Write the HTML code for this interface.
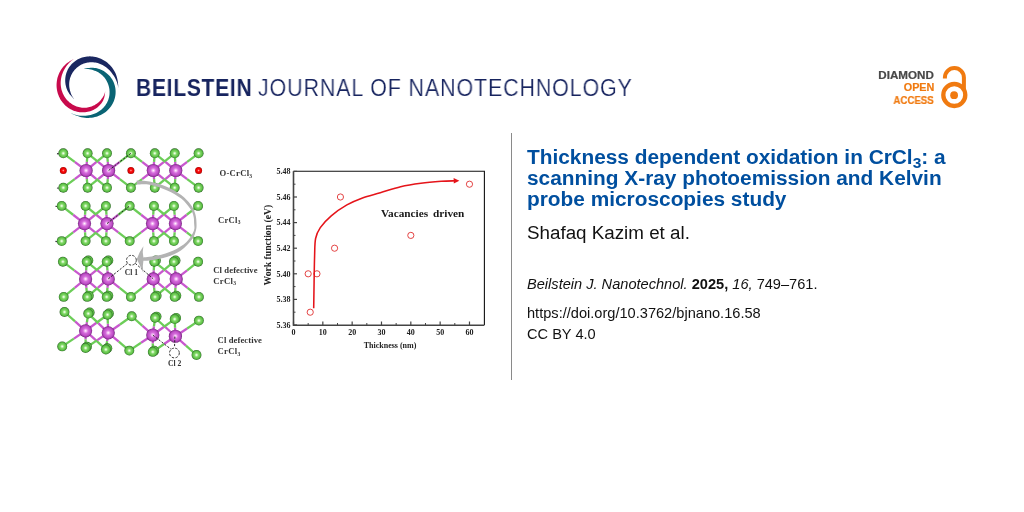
<!DOCTYPE html>
<html><head><meta charset="utf-8">
<style>
html,body{margin:0;padding:0;background:#fff;}
body{width:1024px;height:512px;position:relative;overflow:hidden;font-family:"Liberation Sans",sans-serif;}
.abs{position:absolute;white-space:nowrap;will-change:transform;}
#brand1{left:136px;top:75px;font-size:23.3px;font-weight:bold;color:#17245f;transform-origin:0 0;transform:scaleX(0.9);letter-spacing:0.85px;}
#brand2{left:258px;top:75px;font-size:23.3px;color:#17245f;transform-origin:0 0;transform:scaleX(0.92);letter-spacing:0.95px;-webkit-text-stroke:0.2px #fff;}
#vline{left:511px;top:133px;width:1px;height:247px;background:#8a8a8a;}
#title{left:527px;top:146px;font-size:20.85px;font-weight:bold;color:#004f9f;line-height:21px;}
#author{left:527px;top:222px;font-size:18.8px;color:#111;}
#cite{left:527px;top:276px;font-size:14.6px;color:#111;}
#doi{left:527px;top:305px;font-size:14.6px;color:#111;}
#cc{left:527px;top:325.5px;font-size:14.6px;color:#111;}
.oa{font-family:"Liberation Sans",sans-serif;font-weight:bold;font-size:10px;line-height:11.5px;transform-origin:100% 0;-webkit-text-stroke:0.2px currentColor;}
</style></head><body>
<svg class="abs" style="left:0;top:0" width="1024" height="512" viewBox="0 0 1024 512"><path d="M75.41 100.27 L74.42 99.34 L73.47 98.41 L72.55 97.48 L71.67 96.55 L70.83 95.61 L70.02 94.64 L69.27 93.65 L68.58 92.62 L67.95 91.55 L67.41 90.45 L66.93 89.33 L66.5 88.19 L66.14 87.04 L65.84 85.87 L65.59 84.71 L65.41 83.53 L65.28 82.35 L65.22 81.18 L65.21 80 L65.26 78.83 L65.36 77.66 L65.52 76.51 L65.74 75.36 L66.02 74.23 L66.35 73.11 L66.74 72.01 L67.18 70.93 L67.67 69.87 L68.21 68.83 L68.81 67.82 L69.46 66.84 L70.16 65.88 L70.91 64.96 L71.7 64.08 L72.54 63.23 L73.43 62.42 L74.37 61.65 L75.35 60.92 L76.36 60.24 L77.42 59.6 L78.52 59.02 L79.66 58.49 L80.83 58.01 L82.04 57.59 L83.27 57.22 L84.54 56.92 L85.83 56.68 L87.14 56.51 L88.48 56.41 L89.83 56.37 L91.2 56.4 L92.58 56.51 L93.97 56.69 L95.36 56.95 L96.76 57.28 L98.15 57.7 L99.54 58.19 L100.91 58.76 L102.27 59.42 L103.61 60.15 L104.93 60.97 L106.22 61.87 L107.47 62.85 L108.69 63.91 L109.86 65.06 L110.98 66.28 L112.05 67.58 L113.06 68.95 L114.01 70.4 L114.88 71.93 L115.64 73.53 L116.29 75.19 L116.84 76.91 L117.28 78.68 L117.64 80.49 L117.91 82.34 L118.12 84.24 L118.25 86.17 L118.32 88.15 L118.32 88.15 L118.02 86.12 L117.56 84.15 L116.97 82.26 L116.26 80.45 L115.46 78.73 L114.57 77.1 L113.61 75.57 L112.62 74.13 L111.61 72.78 L110.58 71.51 L109.52 70.32 L108.41 69.23 L107.28 68.22 L106.12 67.29 L104.94 66.46 L103.75 65.7 L102.55 65.03 L101.34 64.44 L100.13 63.92 L98.93 63.48 L97.73 63.12 L96.54 62.82 L95.37 62.58 L94.22 62.41 L93.08 62.3 L91.97 62.25 L90.87 62.25 L89.81 62.3 L88.77 62.41 L87.75 62.55 L86.76 62.74 L85.81 62.97 L84.88 63.23 L83.97 63.53 L83.1 63.86 L82.25 64.23 L81.44 64.62 L80.65 65.04 L79.89 65.48 L79.15 65.95 L78.44 66.45 L77.76 66.96 L77.1 67.5 L76.46 68.06 L75.85 68.64 L75.27 69.23 L74.7 69.85 L74.16 70.49 L73.65 71.16 L73.15 71.84 L72.69 72.54 L72.24 73.27 L71.82 74.01 L71.43 74.78 L71.06 75.57 L70.72 76.39 L70.41 77.23 L70.12 78.09 L69.88 78.98 L69.66 79.89 L69.48 80.83 L69.35 81.79 L69.25 82.77 L69.19 83.78 L69.18 84.8 L69.22 85.85 L69.31 86.92 L69.46 88 L69.66 89.1 L69.92 90.22 L70.22 91.36 L70.58 92.53 L71 93.71 L71.5 94.88 L72.09 96.05 L72.77 97.19 L73.56 98.28 L74.44 99.31 L75.41 100.27 Z" fill="#1a2760"/><path d="M73.82 59.05 L72.43 59.77 L71.06 60.53 L69.72 61.33 L68.41 62.19 L67.14 63.1 L65.92 64.08 L64.75 65.13 L63.65 66.25 L62.64 67.45 L61.71 68.71 L60.85 70.02 L60.07 71.38 L59.36 72.77 L58.73 74.19 L58.17 75.64 L57.7 77.12 L57.31 78.62 L57 80.13 L56.77 81.65 L56.63 83.18 L56.56 84.71 L56.58 86.24 L56.68 87.76 L56.87 89.27 L57.13 90.76 L57.47 92.23 L57.89 93.68 L58.39 95.1 L58.95 96.48 L59.59 97.82 L60.3 99.13 L61.08 100.39 L61.92 101.6 L62.82 102.75 L63.78 103.86 L64.79 104.9 L65.85 105.89 L66.96 106.81 L68.11 107.67 L69.3 108.46 L70.52 109.18 L71.78 109.82 L73.07 110.4 L74.37 110.9 L75.7 111.33 L77.04 111.69 L78.38 111.97 L79.74 112.17 L81.09 112.3 L82.45 112.36 L83.79 112.34 L85.12 112.25 L86.44 112.08 L87.74 111.85 L89.02 111.54 L90.26 111.17 L91.48 110.74 L92.66 110.24 L93.81 109.68 L94.91 109.06 L95.97 108.39 L96.99 107.67 L97.95 106.9 L98.86 106.08 L99.72 105.22 L100.52 104.32 L101.27 103.39 L101.95 102.42 L102.58 101.43 L103.13 100.41 L103.61 99.35 L104.01 98.28 L104.34 97.19 L104.59 96.1 L104.8 95.01 L104.95 93.93 L105.07 92.87 L105.16 91.82 L105.23 90.79 L105.23 90.79 L105.09 91.8 L104.86 92.8 L104.54 93.78 L104.16 94.73 L103.71 95.65 L103.2 96.54 L102.66 97.41 L102.07 98.25 L101.47 99.08 L100.84 99.89 L100.17 100.67 L99.46 101.42 L98.71 102.13 L97.93 102.81 L97.12 103.46 L96.27 104.06 L95.39 104.62 L94.48 105.14 L93.54 105.62 L92.57 106.05 L91.58 106.44 L90.58 106.78 L89.55 107.07 L88.5 107.3 L87.44 107.49 L86.36 107.63 L85.28 107.71 L84.19 107.74 L83.09 107.71 L81.99 107.64 L80.89 107.5 L79.79 107.31 L78.7 107.06 L77.61 106.76 L76.54 106.41 L75.48 105.99 L74.43 105.53 L73.4 105.01 L72.4 104.43 L71.41 103.8 L70.46 103.12 L69.53 102.39 L68.64 101.61 L67.78 100.78 L66.96 99.9 L66.18 98.97 L65.44 98 L64.74 96.99 L64.1 95.94 L63.5 94.84 L62.95 93.72 L62.46 92.55 L62.03 91.36 L61.65 90.14 L61.33 88.89 L61.08 87.61 L60.88 86.32 L60.76 85 L60.69 83.68 L60.7 82.34 L60.77 80.99 L60.92 79.64 L61.13 78.29 L61.41 76.94 L61.77 75.59 L62.19 74.25 L62.69 72.93 L63.26 71.62 L63.9 70.34 L64.6 69.07 L65.36 67.82 L66.17 66.57 L67.04 65.35 L67.98 64.15 L69 63 L70.09 61.9 L71.26 60.87 L72.5 59.92 L73.82 59.05 Z" fill="#c80a4c"/><path d="M82.38 69.27 L83.8 68.92 L85.18 68.61 L86.54 68.34 L87.89 68.12 L89.22 67.94 L90.54 67.82 L91.85 67.76 L93.15 67.79 L94.44 67.9 L95.71 68.11 L96.95 68.37 L98.16 68.7 L99.34 69.08 L100.49 69.52 L101.61 70 L102.69 70.54 L103.73 71.12 L104.74 71.75 L105.7 72.42 L106.63 73.13 L107.52 73.88 L108.36 74.66 L109.17 75.49 L109.93 76.34 L110.64 77.23 L111.31 78.14 L111.94 79.09 L112.52 80.06 L113.05 81.06 L113.54 82.08 L113.97 83.12 L114.36 84.19 L114.7 85.27 L114.98 86.37 L115.22 87.48 L115.4 88.61 L115.53 89.76 L115.61 90.91 L115.63 92.07 L115.59 93.24 L115.5 94.42 L115.35 95.59 L115.14 96.77 L114.87 97.95 L114.54 99.12 L114.15 100.29 L113.7 101.45 L113.19 102.6 L112.61 103.73 L111.97 104.85 L111.26 105.94 L110.49 107.01 L109.66 108.06 L108.76 109.07 L107.8 110.05 L106.77 110.99 L105.68 111.89 L104.53 112.74 L103.32 113.54 L102.05 114.29 L100.72 114.98 L99.34 115.61 L97.9 116.17 L96.4 116.66 L94.86 117.08 L93.28 117.42 L91.65 117.68 L89.98 117.85 L88.28 117.93 L86.55 117.91 L84.8 117.77 L83.05 117.51 L81.28 117.14 L79.52 116.67 L77.74 116.11 L75.96 115.46 L74.16 114.73 L72.35 113.91 L70.51 113.01 L70.51 113.01 L72.4 113.86 L74.32 114.55 L76.26 115.08 L78.19 115.45 L80.11 115.69 L81.99 115.79 L83.83 115.79 L85.61 115.68 L87.32 115.5 L88.97 115.25 L90.56 114.92 L92.09 114.51 L93.55 114.03 L94.95 113.49 L96.28 112.88 L97.53 112.22 L98.72 111.51 L99.84 110.76 L100.89 109.98 L101.86 109.16 L102.77 108.31 L103.62 107.44 L104.39 106.55 L105.1 105.65 L105.75 104.74 L106.34 103.82 L106.87 102.9 L107.34 101.98 L107.77 101.06 L108.14 100.14 L108.46 99.23 L108.73 98.33 L108.97 97.43 L109.16 96.54 L109.31 95.67 L109.43 94.8 L109.51 93.95 L109.55 93.1 L109.57 92.27 L109.56 91.45 L109.51 90.63 L109.45 89.83 L109.35 89.03 L109.23 88.25 L109.08 87.47 L108.9 86.7 L108.7 85.93 L108.48 85.17 L108.23 84.41 L107.95 83.66 L107.64 82.91 L107.3 82.17 L106.94 81.43 L106.54 80.69 L106.11 79.96 L105.64 79.23 L105.14 78.51 L104.6 77.8 L104.01 77.1 L103.39 76.4 L102.73 75.72 L102.01 75.06 L101.26 74.41 L100.45 73.78 L99.6 73.18 L98.7 72.6 L97.74 72.06 L96.74 71.54 L95.68 71.07 L94.57 70.63 L93.41 70.22 L92.19 69.83 L90.91 69.49 L89.58 69.21 L88.2 69.01 L86.78 68.9 L85.32 68.91 L83.86 69.03 L82.38 69.27 Z" fill="#0a6474"/></svg>
<div class="abs" id="brand1">BEILSTEIN</div>
<div class="abs" id="brand2">JOURNAL OF NANOTECHNOLOGY</div>
<div class="abs oa" style="right:90px;top:70px;color:#484848;transform:scaleX(1.16)">DIAMOND</div><div class="abs oa" style="right:90px;top:82px;color:#f07a10;transform:scaleX(1.08)">OPEN</div><div class="abs oa" style="right:90px;top:94.5px;color:#f07a10;transform:scaleX(0.966)">ACCESS</div>
<svg class="abs" style="left:0;top:0" width="1024" height="512" viewBox="0 0 1024 512">
<path d="M944.9 78.6 V77.6 A9.5 9.5 0 0 1 963.9 77.6 V90" fill="none" stroke="#f07a10" stroke-width="4"/>
<circle cx="954.3" cy="95" r="11" fill="none" stroke="#f07a10" stroke-width="4.3"/>
<circle cx="954.1" cy="95.2" r="3.9" fill="#f07a10"/>
</svg>
<svg class="abs" style="left:0;top:0" width="1024" height="512" viewBox="0 0 1024 512">
<defs>
<radialGradient id="gCl" cx="0.5" cy="0.5" r="0.5">
 <stop offset="0" stop-color="#ffffff"/>
 <stop offset="0.14" stop-color="#d6f6c8"/>
 <stop offset="0.4" stop-color="#80d866"/>
 <stop offset="0.72" stop-color="#62c24a"/>
 <stop offset="0.88" stop-color="#48a038"/>
 <stop offset="1" stop-color="#2a5e22"/>
</radialGradient>
<radialGradient id="gCr" cx="0.5" cy="0.5" r="0.5">
 <stop offset="0" stop-color="#ffffff"/>
 <stop offset="0.13" stop-color="#f8c8f8"/>
 <stop offset="0.4" stop-color="#d46cda"/>
 <stop offset="0.72" stop-color="#c050c8"/>
 <stop offset="0.88" stop-color="#a03aa8"/>
 <stop offset="1" stop-color="#662070"/>
</radialGradient>
<radialGradient id="gO" cx="0.5" cy="0.5" r="0.5">
 <stop offset="0" stop-color="#ffb0b0"/>
 <stop offset="0.35" stop-color="#ff1010"/>
 <stop offset="0.85" stop-color="#d80000"/>
 <stop offset="1" stop-color="#900000"/>
</radialGradient>
</defs>
<line x1="86.1" y1="170.5" x2="74.7" y2="161.9" stroke="#c858ce" stroke-width="2.3"/><line x1="74.7" y1="161.9" x2="63.3" y2="153.3" stroke="#6ccd58" stroke-width="2.3"/><line x1="86.1" y1="170.5" x2="74.7" y2="179.1" stroke="#c858ce" stroke-width="2.3"/><line x1="74.7" y1="179.1" x2="63.3" y2="187.7" stroke="#6ccd58" stroke-width="2.3"/><line x1="86.1" y1="170.5" x2="86.85" y2="161.9" stroke="#c858ce" stroke-width="2.3"/><line x1="86.85" y1="161.9" x2="87.6" y2="153.3" stroke="#6ccd58" stroke-width="2.3"/><line x1="86.1" y1="170.5" x2="86.85" y2="179.1" stroke="#c858ce" stroke-width="2.3"/><line x1="86.85" y1="179.1" x2="87.6" y2="187.7" stroke="#6ccd58" stroke-width="2.3"/><line x1="86.1" y1="170.5" x2="96.55" y2="161.9" stroke="#c858ce" stroke-width="2.3"/><line x1="96.55" y1="161.9" x2="107" y2="153.3" stroke="#6ccd58" stroke-width="2.3"/><line x1="86.1" y1="170.5" x2="96.55" y2="179.1" stroke="#c858ce" stroke-width="2.3"/><line x1="96.55" y1="179.1" x2="107" y2="187.7" stroke="#6ccd58" stroke-width="2.3"/><line x1="108.6" y1="170.5" x2="98.1" y2="161.9" stroke="#c858ce" stroke-width="2.3"/><line x1="98.1" y1="161.9" x2="87.6" y2="153.3" stroke="#6ccd58" stroke-width="2.3"/><line x1="108.6" y1="170.5" x2="98.1" y2="179.1" stroke="#c858ce" stroke-width="2.3"/><line x1="98.1" y1="179.1" x2="87.6" y2="187.7" stroke="#6ccd58" stroke-width="2.3"/><line x1="108.6" y1="170.5" x2="107.8" y2="161.9" stroke="#c858ce" stroke-width="2.3"/><line x1="107.8" y1="161.9" x2="107" y2="153.3" stroke="#6ccd58" stroke-width="2.3"/><line x1="108.6" y1="170.5" x2="107.8" y2="179.1" stroke="#c858ce" stroke-width="2.3"/><line x1="107.8" y1="179.1" x2="107" y2="187.7" stroke="#6ccd58" stroke-width="2.3"/><line x1="108.6" y1="170.5" x2="119.75" y2="161.9" stroke="#c858ce" stroke-width="2.3"/><line x1="119.75" y1="161.9" x2="130.9" y2="153.3" stroke="#6ccd58" stroke-width="2.3"/><line x1="108.6" y1="170.5" x2="119.75" y2="179.1" stroke="#c858ce" stroke-width="2.3"/><line x1="119.75" y1="179.1" x2="130.9" y2="187.7" stroke="#6ccd58" stroke-width="2.3"/><line x1="153.3" y1="170.5" x2="142.1" y2="161.9" stroke="#c858ce" stroke-width="2.3"/><line x1="142.1" y1="161.9" x2="130.9" y2="153.3" stroke="#6ccd58" stroke-width="2.3"/><line x1="153.3" y1="170.5" x2="142.1" y2="179.1" stroke="#c858ce" stroke-width="2.3"/><line x1="142.1" y1="179.1" x2="130.9" y2="187.7" stroke="#6ccd58" stroke-width="2.3"/><line x1="153.3" y1="170.5" x2="154.05" y2="161.9" stroke="#c858ce" stroke-width="2.3"/><line x1="154.05" y1="161.9" x2="154.8" y2="153.3" stroke="#6ccd58" stroke-width="2.3"/><line x1="153.3" y1="170.5" x2="154.05" y2="179.1" stroke="#c858ce" stroke-width="2.3"/><line x1="154.05" y1="179.1" x2="154.8" y2="187.7" stroke="#6ccd58" stroke-width="2.3"/><line x1="153.3" y1="170.5" x2="164" y2="161.9" stroke="#c858ce" stroke-width="2.3"/><line x1="164" y1="161.9" x2="174.7" y2="153.3" stroke="#6ccd58" stroke-width="2.3"/><line x1="153.3" y1="170.5" x2="164" y2="179.1" stroke="#c858ce" stroke-width="2.3"/><line x1="164" y1="179.1" x2="174.7" y2="187.7" stroke="#6ccd58" stroke-width="2.3"/><line x1="175.75" y1="170.5" x2="165.28" y2="161.9" stroke="#c858ce" stroke-width="2.3"/><line x1="165.28" y1="161.9" x2="154.8" y2="153.3" stroke="#6ccd58" stroke-width="2.3"/><line x1="175.75" y1="170.5" x2="165.28" y2="179.1" stroke="#c858ce" stroke-width="2.3"/><line x1="165.28" y1="179.1" x2="154.8" y2="187.7" stroke="#6ccd58" stroke-width="2.3"/><line x1="175.75" y1="170.5" x2="175.22" y2="161.9" stroke="#c858ce" stroke-width="2.3"/><line x1="175.22" y1="161.9" x2="174.7" y2="153.3" stroke="#6ccd58" stroke-width="2.3"/><line x1="175.75" y1="170.5" x2="175.22" y2="179.1" stroke="#c858ce" stroke-width="2.3"/><line x1="175.22" y1="179.1" x2="174.7" y2="187.7" stroke="#6ccd58" stroke-width="2.3"/><line x1="175.75" y1="170.5" x2="187.18" y2="161.9" stroke="#c858ce" stroke-width="2.3"/><line x1="187.18" y1="161.9" x2="198.6" y2="153.3" stroke="#6ccd58" stroke-width="2.3"/><line x1="175.75" y1="170.5" x2="187.18" y2="179.1" stroke="#c858ce" stroke-width="2.3"/><line x1="187.18" y1="179.1" x2="198.6" y2="187.7" stroke="#6ccd58" stroke-width="2.3"/><circle cx="63.3" cy="153.3" r="4.95" fill="url(#gCl)"/><circle cx="87.6" cy="153.3" r="4.95" fill="url(#gCl)"/><circle cx="107" cy="153.3" r="4.95" fill="url(#gCl)"/><circle cx="130.9" cy="153.3" r="4.95" fill="url(#gCl)"/><circle cx="154.8" cy="153.3" r="4.95" fill="url(#gCl)"/><circle cx="174.7" cy="153.3" r="4.95" fill="url(#gCl)"/><circle cx="198.6" cy="153.3" r="4.95" fill="url(#gCl)"/><circle cx="63.3" cy="187.7" r="4.95" fill="url(#gCl)"/><circle cx="87.6" cy="187.7" r="4.95" fill="url(#gCl)"/><circle cx="107" cy="187.7" r="4.95" fill="url(#gCl)"/><circle cx="130.9" cy="187.7" r="4.95" fill="url(#gCl)"/><circle cx="154.8" cy="187.7" r="4.95" fill="url(#gCl)"/><circle cx="174.7" cy="187.7" r="4.95" fill="url(#gCl)"/><circle cx="198.6" cy="187.7" r="4.95" fill="url(#gCl)"/><circle cx="86.1" cy="170.5" r="6.6" fill="url(#gCr)"/><circle cx="108.6" cy="170.5" r="6.6" fill="url(#gCr)"/><circle cx="153.3" cy="170.5" r="6.6" fill="url(#gCr)"/><circle cx="175.75" cy="170.5" r="6.6" fill="url(#gCr)"/><circle cx="63.3" cy="170.5" r="3.5" fill="url(#gO)"/><circle cx="130.9" cy="170.5" r="3.5" fill="url(#gO)"/><circle cx="198.6" cy="170.5" r="3.5" fill="url(#gO)"/><line x1="108.6" y1="170.5" x2="130.9" y2="153.3" stroke="#222" stroke-width="0.95" stroke-dasharray="2.2 1.5"/><line x1="84.5" y1="223.6" x2="73.1" y2="214.75" stroke="#c858ce" stroke-width="2.3"/><line x1="73.1" y1="214.75" x2="61.7" y2="205.9" stroke="#6ccd58" stroke-width="2.3"/><line x1="84.5" y1="223.6" x2="73.1" y2="232.35" stroke="#c858ce" stroke-width="2.3"/><line x1="73.1" y1="232.35" x2="61.7" y2="241.1" stroke="#6ccd58" stroke-width="2.3"/><line x1="84.5" y1="223.6" x2="85.05" y2="214.75" stroke="#c858ce" stroke-width="2.3"/><line x1="85.05" y1="214.75" x2="85.6" y2="205.9" stroke="#6ccd58" stroke-width="2.3"/><line x1="84.5" y1="223.6" x2="85.05" y2="232.35" stroke="#c858ce" stroke-width="2.3"/><line x1="85.05" y1="232.35" x2="85.6" y2="241.1" stroke="#6ccd58" stroke-width="2.3"/><line x1="84.5" y1="223.6" x2="95.2" y2="214.75" stroke="#c858ce" stroke-width="2.3"/><line x1="95.2" y1="214.75" x2="105.9" y2="205.9" stroke="#6ccd58" stroke-width="2.3"/><line x1="84.5" y1="223.6" x2="95.2" y2="232.35" stroke="#c858ce" stroke-width="2.3"/><line x1="95.2" y1="232.35" x2="105.9" y2="241.1" stroke="#6ccd58" stroke-width="2.3"/><line x1="107" y1="223.6" x2="96.3" y2="214.75" stroke="#c858ce" stroke-width="2.3"/><line x1="96.3" y1="214.75" x2="85.6" y2="205.9" stroke="#6ccd58" stroke-width="2.3"/><line x1="107" y1="223.6" x2="96.3" y2="232.35" stroke="#c858ce" stroke-width="2.3"/><line x1="96.3" y1="232.35" x2="85.6" y2="241.1" stroke="#6ccd58" stroke-width="2.3"/><line x1="107" y1="223.6" x2="106.45" y2="214.75" stroke="#c858ce" stroke-width="2.3"/><line x1="106.45" y1="214.75" x2="105.9" y2="205.9" stroke="#6ccd58" stroke-width="2.3"/><line x1="107" y1="223.6" x2="106.45" y2="232.35" stroke="#c858ce" stroke-width="2.3"/><line x1="106.45" y1="232.35" x2="105.9" y2="241.1" stroke="#6ccd58" stroke-width="2.3"/><line x1="107" y1="223.6" x2="118.35" y2="214.75" stroke="#c858ce" stroke-width="2.3"/><line x1="118.35" y1="214.75" x2="129.7" y2="205.9" stroke="#6ccd58" stroke-width="2.3"/><line x1="107" y1="223.6" x2="118.35" y2="232.35" stroke="#c858ce" stroke-width="2.3"/><line x1="118.35" y1="232.35" x2="129.7" y2="241.1" stroke="#6ccd58" stroke-width="2.3"/><line x1="152.5" y1="223.6" x2="141.1" y2="214.75" stroke="#c858ce" stroke-width="2.3"/><line x1="141.1" y1="214.75" x2="129.7" y2="205.9" stroke="#6ccd58" stroke-width="2.3"/><line x1="152.5" y1="223.6" x2="141.1" y2="232.35" stroke="#c858ce" stroke-width="2.3"/><line x1="141.1" y1="232.35" x2="129.7" y2="241.1" stroke="#6ccd58" stroke-width="2.3"/><line x1="152.5" y1="223.6" x2="153.2" y2="214.75" stroke="#c858ce" stroke-width="2.3"/><line x1="153.2" y1="214.75" x2="153.9" y2="205.9" stroke="#6ccd58" stroke-width="2.3"/><line x1="152.5" y1="223.6" x2="153.2" y2="232.35" stroke="#c858ce" stroke-width="2.3"/><line x1="153.2" y1="232.35" x2="153.9" y2="241.1" stroke="#6ccd58" stroke-width="2.3"/><line x1="152.5" y1="223.6" x2="163.2" y2="214.75" stroke="#c858ce" stroke-width="2.3"/><line x1="163.2" y1="214.75" x2="173.9" y2="205.9" stroke="#6ccd58" stroke-width="2.3"/><line x1="152.5" y1="223.6" x2="163.2" y2="232.35" stroke="#c858ce" stroke-width="2.3"/><line x1="163.2" y1="232.35" x2="173.9" y2="241.1" stroke="#6ccd58" stroke-width="2.3"/><line x1="175.4" y1="223.6" x2="164.65" y2="214.75" stroke="#c858ce" stroke-width="2.3"/><line x1="164.65" y1="214.75" x2="153.9" y2="205.9" stroke="#6ccd58" stroke-width="2.3"/><line x1="175.4" y1="223.6" x2="164.65" y2="232.35" stroke="#c858ce" stroke-width="2.3"/><line x1="164.65" y1="232.35" x2="153.9" y2="241.1" stroke="#6ccd58" stroke-width="2.3"/><line x1="175.4" y1="223.6" x2="174.65" y2="214.75" stroke="#c858ce" stroke-width="2.3"/><line x1="174.65" y1="214.75" x2="173.9" y2="205.9" stroke="#6ccd58" stroke-width="2.3"/><line x1="175.4" y1="223.6" x2="174.65" y2="232.35" stroke="#c858ce" stroke-width="2.3"/><line x1="174.65" y1="232.35" x2="173.9" y2="241.1" stroke="#6ccd58" stroke-width="2.3"/><line x1="175.4" y1="223.6" x2="186.75" y2="214.75" stroke="#c858ce" stroke-width="2.3"/><line x1="186.75" y1="214.75" x2="198.1" y2="205.9" stroke="#6ccd58" stroke-width="2.3"/><line x1="175.4" y1="223.6" x2="186.75" y2="232.35" stroke="#c858ce" stroke-width="2.3"/><line x1="186.75" y1="232.35" x2="198.1" y2="241.1" stroke="#6ccd58" stroke-width="2.3"/><circle cx="61.7" cy="205.9" r="4.95" fill="url(#gCl)"/><circle cx="85.6" cy="205.9" r="4.95" fill="url(#gCl)"/><circle cx="105.9" cy="205.9" r="4.95" fill="url(#gCl)"/><circle cx="129.7" cy="205.9" r="4.95" fill="url(#gCl)"/><circle cx="153.9" cy="205.9" r="4.95" fill="url(#gCl)"/><circle cx="173.9" cy="205.9" r="4.95" fill="url(#gCl)"/><circle cx="198.1" cy="205.9" r="4.95" fill="url(#gCl)"/><circle cx="61.7" cy="241.1" r="4.95" fill="url(#gCl)"/><circle cx="85.6" cy="241.1" r="4.95" fill="url(#gCl)"/><circle cx="105.9" cy="241.1" r="4.95" fill="url(#gCl)"/><circle cx="129.7" cy="241.1" r="4.95" fill="url(#gCl)"/><circle cx="153.9" cy="241.1" r="4.95" fill="url(#gCl)"/><circle cx="173.9" cy="241.1" r="4.95" fill="url(#gCl)"/><circle cx="198.1" cy="241.1" r="4.95" fill="url(#gCl)"/><circle cx="84.5" cy="223.6" r="6.6" fill="url(#gCr)"/><circle cx="107" cy="223.6" r="6.6" fill="url(#gCr)"/><circle cx="152.5" cy="223.6" r="6.6" fill="url(#gCr)"/><circle cx="175.4" cy="223.6" r="6.6" fill="url(#gCr)"/><line x1="107" y1="223.6" x2="129.7" y2="205.9" stroke="#222" stroke-width="0.95" stroke-dasharray="2.2 1.5"/><line x1="85.6" y1="278.9" x2="74.25" y2="270.3" stroke="#c858ce" stroke-width="2.3"/><line x1="74.25" y1="270.3" x2="62.9" y2="261.7" stroke="#6ccd58" stroke-width="2.3"/><line x1="85.6" y1="278.9" x2="74.65" y2="287.9" stroke="#c858ce" stroke-width="2.3"/><line x1="74.65" y1="287.9" x2="63.7" y2="296.9" stroke="#6ccd58" stroke-width="2.3"/><line x1="85.6" y1="278.9" x2="86.15" y2="270.3" stroke="#c858ce" stroke-width="2.3"/><line x1="86.15" y1="270.3" x2="86.7" y2="261.7" stroke="#6ccd58" stroke-width="2.3"/><line x1="85.6" y1="278.9" x2="86.4" y2="287.9" stroke="#c858ce" stroke-width="2.3"/><line x1="86.4" y1="287.9" x2="87.2" y2="296.9" stroke="#6ccd58" stroke-width="2.3"/><line x1="85.6" y1="278.9" x2="96.15" y2="270.3" stroke="#c858ce" stroke-width="2.3"/><line x1="96.15" y1="270.3" x2="106.7" y2="261.7" stroke="#6ccd58" stroke-width="2.3"/><line x1="85.6" y1="278.9" x2="96.15" y2="287.9" stroke="#c858ce" stroke-width="2.3"/><line x1="96.15" y1="287.9" x2="106.7" y2="296.9" stroke="#6ccd58" stroke-width="2.3"/><line x1="108.25" y1="278.9" x2="97.47" y2="270.3" stroke="#c858ce" stroke-width="2.3"/><line x1="97.47" y1="270.3" x2="86.7" y2="261.7" stroke="#6ccd58" stroke-width="2.3"/><line x1="108.25" y1="278.9" x2="97.72" y2="287.9" stroke="#c858ce" stroke-width="2.3"/><line x1="97.72" y1="287.9" x2="87.2" y2="296.9" stroke="#6ccd58" stroke-width="2.3"/><line x1="108.25" y1="278.9" x2="107.47" y2="270.3" stroke="#c858ce" stroke-width="2.3"/><line x1="107.47" y1="270.3" x2="106.7" y2="261.7" stroke="#6ccd58" stroke-width="2.3"/><line x1="108.25" y1="278.9" x2="107.47" y2="287.9" stroke="#c858ce" stroke-width="2.3"/><line x1="107.47" y1="287.9" x2="106.7" y2="296.9" stroke="#6ccd58" stroke-width="2.3"/><line x1="108.25" y1="278.9" x2="119.58" y2="287.9" stroke="#c858ce" stroke-width="2.3"/><line x1="119.58" y1="287.9" x2="130.9" y2="296.9" stroke="#6ccd58" stroke-width="2.3"/><line x1="153.25" y1="278.9" x2="142.07" y2="287.9" stroke="#c858ce" stroke-width="2.3"/><line x1="142.07" y1="287.9" x2="130.9" y2="296.9" stroke="#6ccd58" stroke-width="2.3"/><line x1="153.25" y1="278.9" x2="153.78" y2="270.3" stroke="#c858ce" stroke-width="2.3"/><line x1="153.78" y1="270.3" x2="154.3" y2="261.7" stroke="#6ccd58" stroke-width="2.3"/><line x1="153.25" y1="278.9" x2="154.12" y2="287.9" stroke="#c858ce" stroke-width="2.3"/><line x1="154.12" y1="287.9" x2="155" y2="296.9" stroke="#6ccd58" stroke-width="2.3"/><line x1="153.25" y1="278.9" x2="163.57" y2="270.3" stroke="#c858ce" stroke-width="2.3"/><line x1="163.57" y1="270.3" x2="173.9" y2="261.7" stroke="#6ccd58" stroke-width="2.3"/><line x1="153.25" y1="278.9" x2="163.97" y2="287.9" stroke="#c858ce" stroke-width="2.3"/><line x1="163.97" y1="287.9" x2="174.7" y2="296.9" stroke="#6ccd58" stroke-width="2.3"/><line x1="176.2" y1="278.9" x2="165.25" y2="270.3" stroke="#c858ce" stroke-width="2.3"/><line x1="165.25" y1="270.3" x2="154.3" y2="261.7" stroke="#6ccd58" stroke-width="2.3"/><line x1="176.2" y1="278.9" x2="165.6" y2="287.9" stroke="#c858ce" stroke-width="2.3"/><line x1="165.6" y1="287.9" x2="155" y2="296.9" stroke="#6ccd58" stroke-width="2.3"/><line x1="176.2" y1="278.9" x2="175.05" y2="270.3" stroke="#c858ce" stroke-width="2.3"/><line x1="175.05" y1="270.3" x2="173.9" y2="261.7" stroke="#6ccd58" stroke-width="2.3"/><line x1="176.2" y1="278.9" x2="175.45" y2="287.9" stroke="#c858ce" stroke-width="2.3"/><line x1="175.45" y1="287.9" x2="174.7" y2="296.9" stroke="#6ccd58" stroke-width="2.3"/><line x1="176.2" y1="278.9" x2="187.15" y2="270.3" stroke="#c858ce" stroke-width="2.3"/><line x1="187.15" y1="270.3" x2="198.1" y2="261.7" stroke="#6ccd58" stroke-width="2.3"/><line x1="176.2" y1="278.9" x2="187.55" y2="287.9" stroke="#c858ce" stroke-width="2.3"/><line x1="187.55" y1="287.9" x2="198.9" y2="296.9" stroke="#6ccd58" stroke-width="2.3"/><circle cx="88.3" cy="260.5" r="4.95" fill="url(#gCl)"/><circle cx="88.8" cy="295.7" r="4.95" fill="url(#gCl)"/><circle cx="108.3" cy="260.5" r="4.95" fill="url(#gCl)"/><circle cx="108.3" cy="295.7" r="4.95" fill="url(#gCl)"/><circle cx="155.9" cy="260.5" r="4.95" fill="url(#gCl)"/><circle cx="156.6" cy="295.7" r="4.95" fill="url(#gCl)"/><circle cx="175.5" cy="260.5" r="4.95" fill="url(#gCl)"/><circle cx="176.3" cy="295.7" r="4.95" fill="url(#gCl)"/><circle cx="62.9" cy="261.7" r="4.95" fill="url(#gCl)"/><circle cx="86.7" cy="261.7" r="4.95" fill="url(#gCl)"/><circle cx="106.7" cy="261.7" r="4.95" fill="url(#gCl)"/><circle cx="154.3" cy="261.7" r="4.95" fill="url(#gCl)"/><circle cx="173.9" cy="261.7" r="4.95" fill="url(#gCl)"/><circle cx="198.1" cy="261.7" r="4.95" fill="url(#gCl)"/><circle cx="63.7" cy="296.9" r="4.95" fill="url(#gCl)"/><circle cx="87.2" cy="296.9" r="4.95" fill="url(#gCl)"/><circle cx="106.7" cy="296.9" r="4.95" fill="url(#gCl)"/><circle cx="130.9" cy="296.9" r="4.95" fill="url(#gCl)"/><circle cx="155" cy="296.9" r="4.95" fill="url(#gCl)"/><circle cx="174.7" cy="296.9" r="4.95" fill="url(#gCl)"/><circle cx="198.9" cy="296.9" r="4.95" fill="url(#gCl)"/><circle cx="85.6" cy="278.9" r="6.6" fill="url(#gCr)"/><circle cx="108.25" cy="278.9" r="6.6" fill="url(#gCr)"/><circle cx="153.25" cy="278.9" r="6.6" fill="url(#gCr)"/><circle cx="176.2" cy="278.9" r="6.6" fill="url(#gCr)"/><line x1="108.25" y1="278.9" x2="127.3" y2="263.6" stroke="#222" stroke-width="0.95" stroke-dasharray="2.2 1.5"/><line x1="135.3" y1="263.4" x2="153.25" y2="278.9" stroke="#222" stroke-width="0.95" stroke-dasharray="2.2 1.5"/><circle cx="131.4" cy="260.2" r="4.9" fill="none" stroke="#333" stroke-width="1" stroke-dasharray="2.4 1.5"/><line x1="85.6" y1="330.8" x2="75.05" y2="321.4" stroke="#c858ce" stroke-width="2.3"/><line x1="75.05" y1="321.4" x2="64.5" y2="312" stroke="#6ccd58" stroke-width="2.3"/><line x1="85.6" y1="330.8" x2="73.9" y2="338.6" stroke="#c858ce" stroke-width="2.3"/><line x1="73.9" y1="338.6" x2="62.2" y2="346.4" stroke="#6ccd58" stroke-width="2.3"/><line x1="85.6" y1="330.8" x2="86.92" y2="322.2" stroke="#c858ce" stroke-width="2.3"/><line x1="86.92" y1="322.2" x2="88.25" y2="313.6" stroke="#6ccd58" stroke-width="2.3"/><line x1="85.6" y1="330.8" x2="85.6" y2="339.4" stroke="#c858ce" stroke-width="2.3"/><line x1="85.6" y1="339.4" x2="85.6" y2="348" stroke="#6ccd58" stroke-width="2.3"/><line x1="85.6" y1="330.8" x2="96.55" y2="322.75" stroke="#c858ce" stroke-width="2.3"/><line x1="96.55" y1="322.75" x2="107.5" y2="314.7" stroke="#6ccd58" stroke-width="2.3"/><line x1="85.6" y1="330.8" x2="95.75" y2="340.15" stroke="#c858ce" stroke-width="2.3"/><line x1="95.75" y1="340.15" x2="105.9" y2="349.5" stroke="#6ccd58" stroke-width="2.3"/><line x1="108.25" y1="332.8" x2="98.25" y2="323.2" stroke="#c858ce" stroke-width="2.3"/><line x1="98.25" y1="323.2" x2="88.25" y2="313.6" stroke="#6ccd58" stroke-width="2.3"/><line x1="108.25" y1="332.8" x2="96.92" y2="340.4" stroke="#c858ce" stroke-width="2.3"/><line x1="96.92" y1="340.4" x2="85.6" y2="348" stroke="#6ccd58" stroke-width="2.3"/><line x1="108.25" y1="332.8" x2="107.88" y2="323.75" stroke="#c858ce" stroke-width="2.3"/><line x1="107.88" y1="323.75" x2="107.5" y2="314.7" stroke="#6ccd58" stroke-width="2.3"/><line x1="108.25" y1="332.8" x2="107.08" y2="341.15" stroke="#c858ce" stroke-width="2.3"/><line x1="107.08" y1="341.15" x2="105.9" y2="349.5" stroke="#6ccd58" stroke-width="2.3"/><line x1="108.25" y1="332.8" x2="119.97" y2="324.52" stroke="#c858ce" stroke-width="2.3"/><line x1="119.97" y1="324.52" x2="131.7" y2="316.25" stroke="#6ccd58" stroke-width="2.3"/><line x1="108.25" y1="332.8" x2="118.78" y2="341.7" stroke="#c858ce" stroke-width="2.3"/><line x1="118.78" y1="341.7" x2="129.3" y2="350.6" stroke="#6ccd58" stroke-width="2.3"/><line x1="152.8" y1="335" x2="142.25" y2="325.62" stroke="#c858ce" stroke-width="2.3"/><line x1="142.25" y1="325.62" x2="131.7" y2="316.25" stroke="#6ccd58" stroke-width="2.3"/><line x1="152.8" y1="335" x2="141.05" y2="342.8" stroke="#c858ce" stroke-width="2.3"/><line x1="141.05" y1="342.8" x2="129.3" y2="350.6" stroke="#6ccd58" stroke-width="2.3"/><line x1="152.8" y1="335" x2="153.95" y2="326.4" stroke="#c858ce" stroke-width="2.3"/><line x1="153.95" y1="326.4" x2="155.1" y2="317.8" stroke="#6ccd58" stroke-width="2.3"/><line x1="152.8" y1="335" x2="152.8" y2="343.45" stroke="#c858ce" stroke-width="2.3"/><line x1="152.8" y1="343.45" x2="152.8" y2="351.9" stroke="#6ccd58" stroke-width="2.3"/><line x1="152.8" y1="335" x2="163.75" y2="327.05" stroke="#c858ce" stroke-width="2.3"/><line x1="163.75" y1="327.05" x2="174.7" y2="319.1" stroke="#6ccd58" stroke-width="2.3"/><line x1="175.4" y1="336.25" x2="165.25" y2="327.02" stroke="#c858ce" stroke-width="2.3"/><line x1="165.25" y1="327.02" x2="155.1" y2="317.8" stroke="#6ccd58" stroke-width="2.3"/><line x1="175.4" y1="336.25" x2="164.1" y2="344.07" stroke="#c858ce" stroke-width="2.3"/><line x1="164.1" y1="344.07" x2="152.8" y2="351.9" stroke="#6ccd58" stroke-width="2.3"/><line x1="175.4" y1="336.25" x2="175.05" y2="327.68" stroke="#c858ce" stroke-width="2.3"/><line x1="175.05" y1="327.68" x2="174.7" y2="319.1" stroke="#6ccd58" stroke-width="2.3"/><line x1="175.4" y1="336.25" x2="187.15" y2="328.43" stroke="#c858ce" stroke-width="2.3"/><line x1="187.15" y1="328.43" x2="198.9" y2="320.6" stroke="#6ccd58" stroke-width="2.3"/><line x1="175.4" y1="336.25" x2="185.95" y2="345.62" stroke="#c858ce" stroke-width="2.3"/><line x1="185.95" y1="345.62" x2="196.5" y2="355" stroke="#6ccd58" stroke-width="2.3"/><circle cx="89.65" cy="312.4" r="4.95" fill="url(#gCl)"/><circle cx="87" cy="346.8" r="4.95" fill="url(#gCl)"/><circle cx="108.9" cy="313.5" r="4.95" fill="url(#gCl)"/><circle cx="107.3" cy="348.3" r="4.95" fill="url(#gCl)"/><circle cx="156.5" cy="316.6" r="4.95" fill="url(#gCl)"/><circle cx="154.2" cy="350.7" r="4.95" fill="url(#gCl)"/><circle cx="176.1" cy="317.9" r="4.95" fill="url(#gCl)"/><circle cx="64.5" cy="312" r="4.95" fill="url(#gCl)"/><circle cx="88.25" cy="313.6" r="4.95" fill="url(#gCl)"/><circle cx="107.5" cy="314.7" r="4.95" fill="url(#gCl)"/><circle cx="131.7" cy="316.25" r="4.95" fill="url(#gCl)"/><circle cx="155.1" cy="317.8" r="4.95" fill="url(#gCl)"/><circle cx="174.7" cy="319.1" r="4.95" fill="url(#gCl)"/><circle cx="198.9" cy="320.6" r="4.95" fill="url(#gCl)"/><circle cx="62.2" cy="346.4" r="4.95" fill="url(#gCl)"/><circle cx="85.6" cy="348" r="4.95" fill="url(#gCl)"/><circle cx="105.9" cy="349.5" r="4.95" fill="url(#gCl)"/><circle cx="129.3" cy="350.6" r="4.95" fill="url(#gCl)"/><circle cx="152.8" cy="351.9" r="4.95" fill="url(#gCl)"/><circle cx="196.5" cy="355" r="4.95" fill="url(#gCl)"/><circle cx="85.6" cy="330.8" r="6.6" fill="url(#gCr)"/><circle cx="108.25" cy="332.8" r="6.6" fill="url(#gCr)"/><circle cx="152.8" cy="335" r="6.6" fill="url(#gCr)"/><circle cx="175.4" cy="336.25" r="6.6" fill="url(#gCr)"/><line x1="152.8" y1="335.1" x2="171.1" y2="349.3" stroke="#222" stroke-width="0.95" stroke-dasharray="2.2 1.5"/><line x1="174.9" y1="336.5" x2="174.5" y2="347.6" stroke="#222" stroke-width="0.95" stroke-dasharray="2.2 1.5"/><circle cx="174.4" cy="353" r="4.9" fill="none" stroke="#333" stroke-width="1" stroke-dasharray="2.4 1.5"/><line x1="57.0" y1="153.6" x2="58.6" y2="153.9" stroke="#333" stroke-width="1.1"/><line x1="57.0" y1="188" x2="58.6" y2="188.3" stroke="#333" stroke-width="1.1"/><line x1="55.4" y1="206.2" x2="57" y2="206.5" stroke="#333" stroke-width="1.1"/><line x1="55.4" y1="241.4" x2="57" y2="241.70000000000002" stroke="#333" stroke-width="1.1"/>
<path d="M136.7 180.45 C138.85 180.64 144.52 180.52 149.6 181.6 C154.68 182.68 161.93 184.65 167.2 186.9 C172.47 189.15 177.3 192.17 181.2 195.1 C185.1 198.03 188.25 201.37 190.6 204.5 C192.95 207.63 194.32 210.78 195.3 213.9 C196.28 217.02 196.4 220.43 196.5 223.2 C196.6 225.97 196.63 227.82 195.9 230.5 C195.17 233.18 194.6 235.92 192.1 239.25 C189.6 242.58 185.12 247.54 180.9 250.5 C176.68 253.46 171.5 255.43 166.8 257 C162.1 258.57 156.6 259.27 152.7 259.9 C148.8 260.53 144.95 260.65 143.4 260.8 Q142.2 266 143.4 273 Q139.5 264.5 136.8 258.9 Q139.5 251.5 143.4 246.3 Q142.2 251.5 143.4 257.5 L143.4 257.5 C145.73 257.18 152.4 256.77 157.4 255.6 C162.4 254.43 168.55 252.77 173.4 250.5 C178.25 248.23 183.1 245.25 186.5 242 C189.9 238.75 192.53 234.13 193.8 231 C195.07 227.87 194.15 225.67 194.1 223.2 C194.05 220.73 194.08 218.53 193.5 216.2 C192.92 213.87 192.65 212.13 190.6 209.2 C188.55 206.27 185.1 201.73 181.2 198.6 C177.3 195.47 172.47 192.7 167.2 190.4 C161.93 188.1 154.68 185.78 149.6 184.8 C144.52 183.83 138.85 184.59 136.7 184.55 Z" fill="#b3b3b3"/>

<g font-family="Liberation Serif" font-weight="bold" fill="#333" font-size="8.6" letter-spacing="0.3">
<text x="219.4" y="176.4">O-CrCl<tspan font-size="5.5" dy="1.5">3</tspan></text>
<text x="217.9" y="222.5">CrCl<tspan font-size="5.5" dy="1.5">3</tspan></text>
<text x="213.3" y="272.8" letter-spacing="0.1">Cl defective</text>
<text x="213.3" y="283.8">CrCl<tspan font-size="5.5" dy="1.5">3</tspan></text>
<text x="217.6" y="343" letter-spacing="0.1">Cl defective</text>
<text x="217.6" y="354">CrCl<tspan font-size="5.5" dy="1.5">3</tspan></text>
<text x="124.8" y="274.7" font-size="7.6" letter-spacing="0">Cl 1</text>
<text x="168" y="365.8" font-size="7.6" letter-spacing="0">Cl 2</text>
</g>
<path d="M293.5 171.25 H484.4 V325" fill="none" stroke="#111" stroke-width="1.1"/><path d="M293.5 171.25 V325.2 H484.4" fill="none" stroke="#444" stroke-width="1.6"/><line x1="293.5" y1="325" x2="297" y2="325" stroke="#444" stroke-width="1.2"/><line x1="293.5" y1="312.2" x2="295.5" y2="312.2" stroke="#444" stroke-width="1"/><line x1="293.5" y1="299.4" x2="297" y2="299.4" stroke="#444" stroke-width="1.2"/><line x1="293.5" y1="286.6" x2="295.5" y2="286.6" stroke="#444" stroke-width="1"/><line x1="293.5" y1="273.8" x2="297" y2="273.8" stroke="#444" stroke-width="1.2"/><line x1="293.5" y1="261" x2="295.5" y2="261" stroke="#444" stroke-width="1"/><line x1="293.5" y1="248.2" x2="297" y2="248.2" stroke="#444" stroke-width="1.2"/><line x1="293.5" y1="235.4" x2="295.5" y2="235.4" stroke="#444" stroke-width="1"/><line x1="293.5" y1="222.6" x2="297" y2="222.6" stroke="#444" stroke-width="1.2"/><line x1="293.5" y1="209.8" x2="295.5" y2="209.8" stroke="#444" stroke-width="1"/><line x1="293.5" y1="197" x2="297" y2="197" stroke="#444" stroke-width="1.2"/><line x1="293.5" y1="184.2" x2="295.5" y2="184.2" stroke="#444" stroke-width="1"/><line x1="293.5" y1="171.4" x2="297" y2="171.4" stroke="#444" stroke-width="1.2"/><line x1="293.5" y1="325" x2="293.5" y2="321.5" stroke="#444" stroke-width="1.2"/><line x1="308.17" y1="325" x2="308.17" y2="323" stroke="#444" stroke-width="1"/><line x1="322.83" y1="325" x2="322.83" y2="321.5" stroke="#444" stroke-width="1.2"/><line x1="337.5" y1="325" x2="337.5" y2="323" stroke="#444" stroke-width="1"/><line x1="352.16" y1="325" x2="352.16" y2="321.5" stroke="#444" stroke-width="1.2"/><line x1="366.82" y1="325" x2="366.82" y2="323" stroke="#444" stroke-width="1"/><line x1="381.49" y1="325" x2="381.49" y2="321.5" stroke="#444" stroke-width="1.2"/><line x1="396.15" y1="325" x2="396.15" y2="323" stroke="#444" stroke-width="1"/><line x1="410.82" y1="325" x2="410.82" y2="321.5" stroke="#444" stroke-width="1.2"/><line x1="425.49" y1="325" x2="425.49" y2="323" stroke="#444" stroke-width="1"/><line x1="440.15" y1="325" x2="440.15" y2="321.5" stroke="#444" stroke-width="1.2"/><line x1="454.81" y1="325" x2="454.81" y2="323" stroke="#444" stroke-width="1"/><line x1="469.48" y1="325" x2="469.48" y2="321.5" stroke="#444" stroke-width="1.2"/><g font-family="Liberation Serif" font-weight="bold" fill="#222" font-size="8"><text x="290.5" y="327.8" text-anchor="end">5.36</text><text x="290.5" y="302.2" text-anchor="end">5.38</text><text x="290.5" y="276.6" text-anchor="end">5.40</text><text x="290.5" y="251" text-anchor="end">5.42</text><text x="290.5" y="225.4" text-anchor="end">5.44</text><text x="290.5" y="199.8" text-anchor="end">5.46</text><text x="290.5" y="174.2" text-anchor="end">5.48</text><text x="293.5" y="334.5" text-anchor="middle">0</text><text x="322.83" y="334.5" text-anchor="middle">10</text><text x="352.16" y="334.5" text-anchor="middle">20</text><text x="381.49" y="334.5" text-anchor="middle">30</text><text x="410.82" y="334.5" text-anchor="middle">40</text><text x="440.15" y="334.5" text-anchor="middle">50</text><text x="469.48" y="334.5" text-anchor="middle">60</text></g><circle cx="308.17" cy="273.8" r="3.1" fill="none" stroke="#e03030" stroke-width="0.9"/><circle cx="316.96" cy="273.8" r="3.1" fill="none" stroke="#e03030" stroke-width="0.9"/><circle cx="310.22" cy="312.2" r="3.1" fill="none" stroke="#e03030" stroke-width="0.9"/><circle cx="334.56" cy="248.2" r="3.1" fill="none" stroke="#e03030" stroke-width="0.9"/><circle cx="340.43" cy="197" r="3.1" fill="none" stroke="#e03030" stroke-width="0.9"/><circle cx="410.82" cy="235.4" r="3.1" fill="none" stroke="#e03030" stroke-width="0.9"/><circle cx="469.48" cy="184.2" r="3.1" fill="none" stroke="#e03030" stroke-width="0.9"/><path d="M313.7 308.3 C313.77 303.92 313.95 290.72 314.1 282 C314.25 273.28 314.35 263.25 314.6 256 C314.85 248.75 314.65 243.23 315.6 238.5 C316.55 233.77 317.69 231.38 320.3 227.6 C322.91 223.82 326.82 219.58 331.25 215.8 C335.68 212.02 341.69 207.88 346.9 204.9 C352.11 201.92 356.93 199.92 362.5 197.9 C368.07 195.88 373.95 194.67 380.3 192.8 C386.65 190.93 393.83 188.3 400.6 186.7 C407.37 185.1 414.13 184.1 420.9 183.2 C427.67 182.3 435.52 181.7 441.2 181.3 C446.88 180.9 452.7 180.88 455 180.8" fill="none" stroke="#e5141a" stroke-width="1.55"/><path d="M459.4 180.8 L453.6 178 L453.8 183.6 Z" fill="#e5141a"/><text x="380.9" y="217" font-family="Liberation Serif" font-weight="bold" font-size="11.3" fill="#1a1a1a" word-spacing="2">Vacancies driven</text><text x="363.7" y="347.8" font-family="Liberation Serif" font-weight="bold" font-size="8" fill="#222">Thickness (nm)</text><text transform="translate(271,285.5) rotate(-90)" x="0" y="0" font-family="Liberation Serif" font-weight="bold" font-size="9.7" fill="#222">Work function (eV)</text>
</svg>
<div class="abs" id="vline"></div>
<div class="abs" id="title">Thickness dependent oxidation in CrCl<span style="font-size:15.5px;position:relative;top:3.5px;line-height:0">3</span>: a<br>scanning X-ray photoemission and Kelvin<br>probe microscopies study</div>
<div class="abs" id="author">Shafaq Kazim et al.</div>
<div class="abs" id="cite"><i>Beilstein J. Nanotechnol.</i> <b>2025,</b> <i>16,</i> 749–761.</div>
<div class="abs" id="doi">https://doi.org/10.3762/bjnano.16.58</div>
<div class="abs" id="cc">CC BY 4.0</div>
</body></html>
